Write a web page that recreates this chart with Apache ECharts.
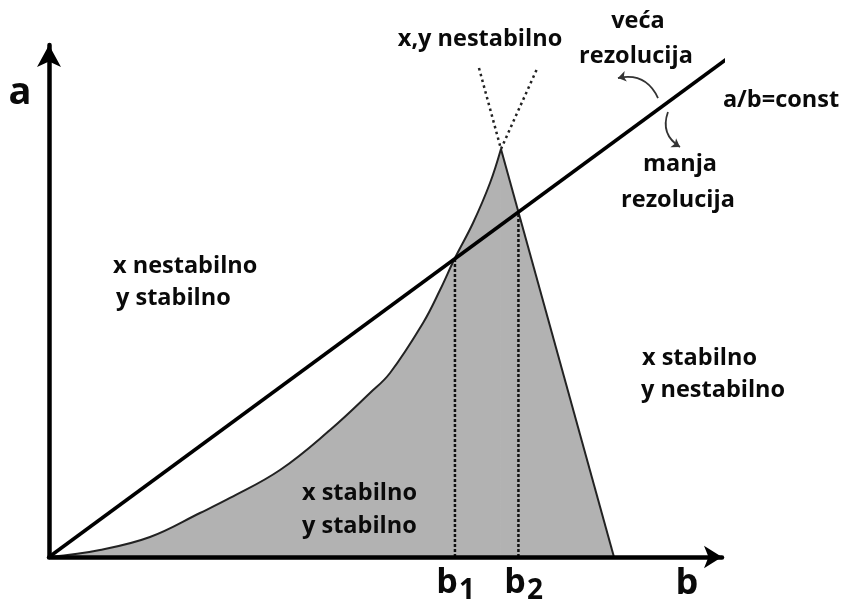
<!DOCTYPE html>
<html>
<head>
<meta charset="utf-8">
<script src="https://cdn.jsdelivr.net/npm/echarts@6/dist/echarts.min.js"></script>
<style>
  html, body { margin: 0; padding: 0; background: #fff; }
  #main { width: 844px; height: 609px; }
</style>
</head>
<body>
<div id="main"></div>
<script>
// lijevi rub stabilnog podrucja (b, a)
const leftEdge = [[0, 0], [7.68, 1.40], [15.21, 3.99], [22.74, 8.78], [27.26, 11.78], [34.79, 17.37],
  [42.32, 25.35], [48.34, 32.73], [51.36, 36.73], [56.33, 46.71], [58.89, 53.29], [61.14, 59.68],
  [63.86, 66.67], [66.42, 74.65], [68.07, 81.44]]
const rightEdge = [[68.07, 81.44], [85.09, 0]]
const peakDots = [[64.76, 97.6], [68.07, 81.44], [73.49, 97.41]]
const constLine = [[0, 0], [102.26, 99.6]]
const bMarks = [[61.14, 59.6], [70.70, 68.9]]
const arrowPaths = [
  [[91.72, 91.62], [85.69, 95.61]],
  [[93.22, 88.82], [95.03, 81.84]]
]

const FONT = '"Open Sans", "Noto Sans", sans-serif'
const labels = [
  { t: 'x,y nestabilno', x: 480, y: 39, a: 'center' },
  { t: 'veća', x: 638, y: 21, a: 'center' },
  { t: 'rezolucija', x: 636, y: 56, a: 'center' },
  { t: 'a/b=const', x: 781, y: 100, a: 'center' },
  { t: 'manja', x: 680, y: 164, a: 'center' },
  { t: 'rezolucija', x: 678, y: 200, a: 'center' },
  { t: 'x nestabilno', x: 113, y: 266, a: 'left' },
  { t: 'y stabilno', x: 116, y: 298, a: 'left' },
  { t: 'x stabilno', x: 642, y: 358, a: 'left' },
  { t: 'y nestabilno', x: 641, y: 390, a: 'left' },
  { t: 'x stabilno', x: 302, y: 493, a: 'left' },
  { t: 'y stabilno', x: 302, y: 526, a: 'left' }
]

const chart = echarts.init(document.getElementById('main'))

const graphics = labels.map(l => ({
  type: 'text', x: l.x, y: l.y, z: 100,
  style: { text: l.t, font: 'bold 23.5px ' + FONT, fill: '#0a0a0a', align: l.a, verticalAlign: 'middle' }
}))
graphics.push(
  { type: 'text', x: 20, y: 93, z: 100, style: { text: 'a', font: 'bold 38px ' + FONT, fill: '#0a0a0a', align: 'center', verticalAlign: 'middle' } },
  { type: 'text', x: 687, y: 584, z: 100, style: { text: 'b', font: 'bold 36px ' + FONT, fill: '#0a0a0a', align: 'center', verticalAlign: 'middle' } },
  { type: 'text', x: 447, y: 583, z: 100, style: { text: 'b', font: 'bold 34px ' + FONT, fill: '#0a0a0a', align: 'center', verticalAlign: 'middle' } },
  { type: 'text', x: 467, y: 591, z: 100, style: { text: '1', font: 'bold 28px ' + FONT, fill: '#0a0a0a', align: 'center', verticalAlign: 'middle' } },
  { type: 'text', x: 515, y: 583, z: 100, style: { text: 'b', font: 'bold 34px ' + FONT, fill: '#0a0a0a', align: 'center', verticalAlign: 'middle' } },
  { type: 'text', x: 535, y: 591, z: 100, style: { text: '2', font: 'bold 28px ' + FONT, fill: '#0a0a0a', align: 'center', verticalAlign: 'middle' } }
)

const axisCommon = {
  type: 'value', min: 0, z: 10,
  axisLabel: { show: false }, axisTick: { show: false }, splitLine: { show: false },
  axisLine: { show: true, onZero: false, lineStyle: { color: '#000', width: 4.5 } }
}

chart.setOption({
  animation: false,
  backgroundColor: '#fff',
  grid: { left: 49, right: 122, top: 45, bottom: 52 },
  xAxis: Object.assign({}, axisCommon, {
    max: 101.36,
    axisLine: Object.assign({}, axisCommon.axisLine, { symbol: ['none', 'arrow'], symbolSize: [17, 18] })
  }),
  yAxis: Object.assign({}, axisCommon, {
    max: 102.2,
    axisLine: Object.assign({}, axisCommon.axisLine, { symbol: ['none', 'arrow'], symbolSize: [18, 22] })
  }),
  graphic: graphics,
  series: [
    {
      type: 'line', data: leftEdge, smooth: 0.4, symbol: 'none', z: 2,
      lineStyle: { color: '#222', width: 2 },
      areaStyle: { color: '#b2b2b2', opacity: 1 }
    },
    {
      type: 'line', data: rightEdge, symbol: 'none', z: 2,
      lineStyle: { color: '#222', width: 2 },
      areaStyle: { color: '#b2b2b2', opacity: 1 }
    },
    ...bMarks.map(p => ({
      type: 'line', data: [[p[0], 0], p], symbol: 'none', z: 3,
      lineStyle: { color: '#111', width: 2.5, type: [3, 2] }
    })),
    {
      type: 'line', data: peakDots, symbol: 'none', z: 3,
      lineStyle: { color: '#222', width: 2.5, type: [2.5, 3.5] }
    },
    {
      type: 'line', data: constLine, symbol: 'none', z: 4, clip: false,
      lineStyle: { color: '#000', width: 3.5 }
    },
    {
      type: 'lines', coordinateSystem: 'cartesian2d', z: 4,
      symbol: ['none', 'arrow'], symbolSize: 8,
      lineStyle: { color: '#333', width: 1.8, curveness: -0.4, opacity: 1 },
      data: arrowPaths.map(c => ({ coords: c }))
    }
  ]
})
</script>
</body>
</html>
